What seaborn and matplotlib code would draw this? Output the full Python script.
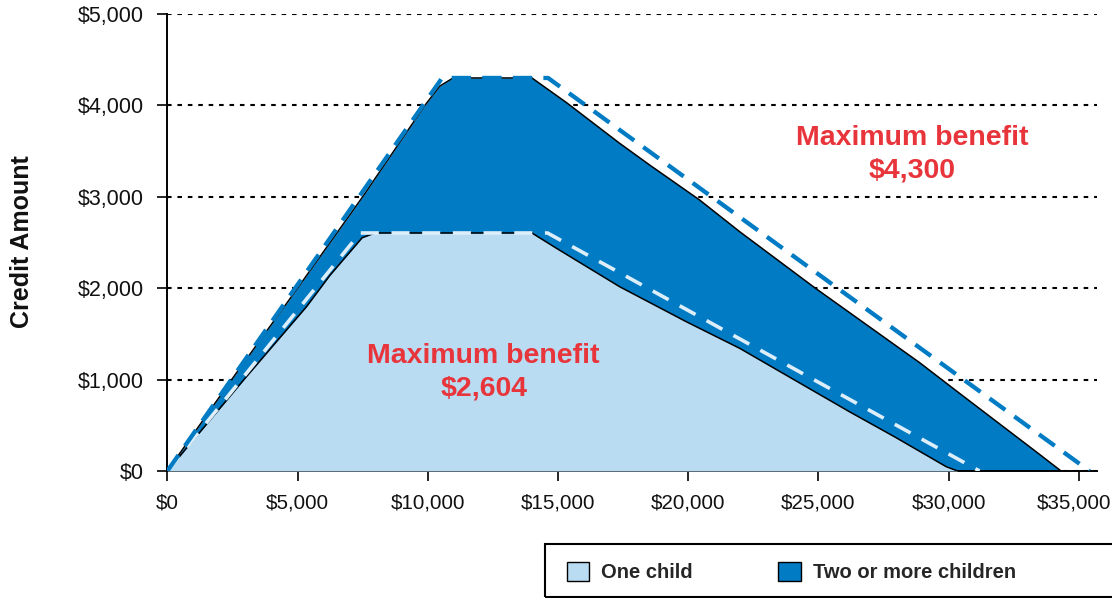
import matplotlib
matplotlib.use("Agg")
import matplotlib.pyplot as plt
import matplotlib.transforms as mtransforms
import seaborn as sns
from matplotlib.patches import Patch, Rectangle
from matplotlib.ticker import FuncFormatter

# Earned income (x) and credit amount (y) along each schedule
two_x = [0, 2470, 5000, 7500, 9890, 10465, 10975, 14000, 15330, 17370, 18520,
         20440, 21980, 24860, 28890, 30420, 33360, 34320]
two_y = [0, 1000, 2000, 3000, 4000, 4212, 4300, 4300, 4030, 3585, 3348,
         2965, 2618, 2005, 1185, 850, 211, 0]

one_x = [0, 2940, 5350, 6240, 7480, 7970, 14000, 14940, 17370, 19930, 21980,
         26190, 27920, 29910, 30350]
one_y = [0, 1000, 1800, 2140, 2552, 2604, 2604, 2437, 2016, 1633, 1342,
         649, 375, 47, 0]

two_alt_x = [0, 10550, 14620, 35410]
two_alt_y = [0, 4300, 4300, 0]

one_alt_x = [0, 7400, 14600, 31190]
one_alt_y = [0, 2604, 2604, 0]

x_ticks = [0, 5000, 10000, 15000, 20000, 25000, 30000, 35000]
y_ticks = [0, 1000, 2000, 3000, 4000, 5000]

legend_labels = ["One child", "Two or more children"]

LIGHT = "#B9DCF2"
DARK = "#007BC4"
PALE = "#DCEEFA"
RED = "#E8343B"

sns.set_theme(style="ticks")
plt.rcParams["font.family"] = ["Liberation Sans", "DejaVu Sans"]

fig = plt.figure(figsize=(11.12, 5.98), dpi=100)
ax = fig.add_axes([0.1505, 0.2124, 0.836, 0.7642])

# Filled schedules with thin black outlines
ax.fill_between(two_x, two_y, color=DARK, lw=0, zorder=2)
sns.lineplot(x=two_x, y=two_y, color="black", lw=1.1, sort=False,
             estimator=None, ax=ax, zorder=3)
ax.fill_between(one_x, one_y, color=LIGHT, lw=0, zorder=4)
sns.lineplot(x=one_x, y=one_y, color="black", lw=1.1, sort=False,
             estimator=None, ax=ax, zorder=5)

# Alternative schedules as dashed lines
sns.lineplot(x=one_alt_x, y=one_alt_y, color=PALE, lw=2.6, sort=False,
             estimator=None, ax=ax, zorder=6, linestyle=(0, (5, 3.5)),
             dash_capstyle="butt")
sns.lineplot(x=two_alt_x, y=two_alt_y, color=DARK, lw=3.1, sort=False,
             estimator=None, ax=ax, zorder=7, linestyle=(0, (4.5, 2.6)),
             dash_capstyle="butt")

ax.set_xlim(0, 35700)
ax.set_ylim(0, 5000)
ax.set_xticks(x_ticks)
ax.set_yticks(y_ticks)
money = FuncFormatter(lambda v, _: f"${v:,.0f}")
ax.xaxis.set_major_formatter(money)
ax.yaxis.set_major_formatter(money)
ax.tick_params(axis="both", direction="out", length=7.2, width=1.2,
               color="black", labelcolor="#111111")
ax.tick_params(axis="y", pad=10, labelsize=15.5)
ax.tick_params(axis="x", pad=9, labelsize=14.8)

ax.set_axisbelow(True)
ax.yaxis.grid(True, color="black", lw=1.5, linestyle=(0, (2.2, 2.8)))
ax.xaxis.grid(False)
sns.despine(ax=ax)
for side in ("left", "bottom"):
    ax.spines[side].set_color("black")
    ax.spines[side].set_linewidth(1.4)
ax.set_xlabel("")
ax.set_ylabel("")

# Nudge the last income label inward so it stays inside the canvas
last_label = ax.xaxis.get_major_ticks()[-1].label1
last_label.set_transform(last_label.get_transform() +
                         mtransforms.ScaledTranslation(-5 / 100, 0,
                                                       fig.dpi_scale_trans))

fig.text(22 / 1112, 0.596, "Credit Amount", rotation=90, ha="center",
         va="center", fontsize=18, fontweight="bold", color="#111111")

ax.text(28615, 3468, "Maximum benefit\n$4,300", ha="center", va="center",
        color=RED, fontsize=20.5, fontweight="bold", linespacing=1.3,
        zorder=8)
ax.text(12150, 1083, "Maximum benefit\n$2,604", ha="center", va="center",
        color=RED, fontsize=20.5, fontweight="bold", linespacing=1.3,
        zorder=8)

handles = [Patch(facecolor=LIGHT, edgecolor="black", lw=1),
           Patch(facecolor=DARK, edgecolor="black", lw=1)]
fig.legend(handles, legend_labels, loc="center left",
           bbox_to_anchor=(567 / 1112, (598 - 572) / 598), ncol=2,
           frameon=False, borderpad=0, borderaxespad=0,
           handlelength=1.1, handleheight=1.1, handletextpad=0.6,
           columnspacing=4.25,
           prop={"weight": "bold", "size": 14.5})
fig.add_artist(Rectangle((545 / 1112, 1.5 / 598), (1112 - 545) / 1112 + 0.01,
                         (597 - 544) / 598, transform=fig.transFigure,
                         fill=False, ec="black", lw=1.5, clip_on=False))

fig.savefig("out.png", dpi=100)
